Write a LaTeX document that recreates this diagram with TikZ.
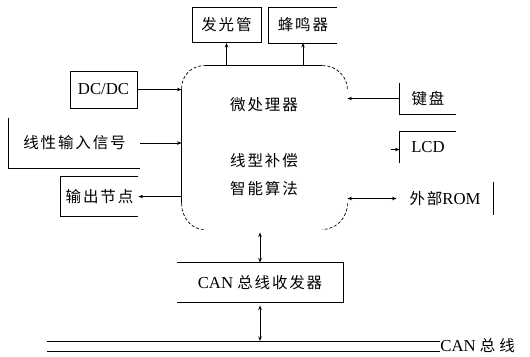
\documentclass[tikz,border=0pt]{standalone}
\usepackage{fontspec}
\setmainfont{Liberation Serif}[Scale=1.08]
\newfontfamily\cjk[LetterSpace=12]{Noto Sans CJK SC}
\usetikzlibrary{arrows.meta}
\begin{document}
\begin{tikzpicture}[x=1bp,y=-1bp, line width=0.9bp,
  font=\fontsize{15.5bp}{18bp}\selectfont,
  lbl/.style={inner sep=0pt},
  box/.style={draw, inner sep=0pt},
  arr/.style={-{Stealth[length=4.5bp,width=3.5bp]}},
  dbl/.style={{Stealth[length=4.5bp,width=3.5bp]}-{Stealth[length=4.5bp,width=3.5bp]}},
  corner/.style={densely dashed, line width=0.7bp}]
\useasboundingbox (0,0) rectangle (530,356);

% microprocessor region
\node[lbl, minimum width=165bp, minimum height=163bp] (mpu) at (264.5,147.5) {};
\node[lbl] (t1) at (264,105) {\cjk 微处理器};
\node[lbl] (t2) at (264,161) {\cjk 线型补偿};
\node[lbl] (t3) at (264,189) {\cjk 智能算法};
\draw ([yshift=-23bp]mpu.north west) -- ([yshift=26bp]mpu.south west);
\draw ([xshift=23bp]mpu.north west) -- ([xshift=-25bp]mpu.north east);
\draw[corner] ([yshift=-23bp]mpu.north west) .. controls ([yshift=-10bp]mpu.north west) and ([xshift=10bp]mpu.north west) .. ([xshift=23bp]mpu.north west);
\draw[corner] ([xshift=-25bp]mpu.north east) .. controls ([xshift=-11bp]mpu.north east) and ([yshift=-11bp]mpu.north east) .. ([yshift=-24bp]mpu.north east);
\draw[corner] ([yshift=26bp]mpu.south west) .. controls ([yshift=12bp]mpu.south west) and ([xshift=10bp]mpu.south west) .. ([xshift=22bp]mpu.south west);
\draw[corner] ([yshift=26bp]mpu.south east) .. controls ([yshift=12bp]mpu.south east) and ([xshift=-11bp]mpu.south east) .. ([xshift=-25bp]mpu.south east);

% top boxes
\node[box, minimum width=69bp, minimum height=35bp] (led) at (226.5,25) {\cjk 发光管};
\node[lbl, minimum width=68bp, minimum height=35bp] (buz) at (303,25) {\cjk 蜂鸣器};
\draw (buz.north east) -- (buz.north west) -- (buz.south west) -- (buz.south east);
\draw[arr] (mpu.north -| led.south) -- (led.south);
\draw[arr] (mpu.north -| buz.south) -- (buz.south);

% left side
\node[box, minimum width=67bp, minimum height=37bp] (dc) at (103.5,89.5) {DC/DC};
\draw[arr] (dc.east) -- (dc.east -| mpu.west);

\node[lbl, minimum width=131bp, minimum height=50bp] (in) at (74.5,143) {\cjk 线性输入信号};
\draw (in.north west) -- (in.south west) -- (in.south east);
\draw[arr] (in.east) -- (in.east -| mpu.west);

\node[lbl, minimum width=77bp, minimum height=39bp] (out) at (99.5,196.5) {\cjk 输出节点};
\draw (out.north east) -- (out.north west) -- (out.south west) -- (out.south east);
\draw[arr] (out.east -| mpu.west) -- (out.east);

% right side
\node[lbl, minimum width=56bp, minimum height=31bp] (kb) at (428,98.5) {\cjk 键盘};
\draw (kb.north west) -- (kb.south west) -- (kb.south east);
\draw[arr] (kb.west) -- (kb.west -| mpu.east);

\node[lbl, minimum width=56bp, minimum height=31bp] (lcd) at (428,147.5) {LCD};
\draw (lcd.south west) -- (lcd.north west) -- (lcd.north east);
\draw[arr] ([xshift=-9bp,yshift=-2bp]lcd.west) -- ([yshift=-2bp]lcd.west);

\node[lbl, minimum width=96bp, minimum height=33bp] (rom) at (445,198.5) {{\cjk 外部}ROM};
\draw (rom.north east) -- (rom.south east);
\draw[dbl] (rom.west -| mpu.east) -- (rom.west);

% CAN
\node[lbl, minimum width=166bp, minimum height=39bp] (can) at (260,282.5) {CAN {\cjk 总线收发器}};
\draw (can.north west) -- (can.north east) -- (can.south east) -- (can.south west);
\draw[dbl, shorten <=3bp] (can.north |- mpu.south) -- (can.north);

\node[lbl, anchor=west] (bus) at (440,346) {CAN {\cjk\addfontfeature{LetterSpace=25} 总线}};
\coordinate (b1) at (47,341);
\coordinate (b2) at (47,351);
\draw (b1) -- (b1 -| bus.west);
\draw (b2) -- (b2 -| bus.west);
\draw[dbl, shorten <=3bp] (can.south) -- (can.south |- b1);
\end{tikzpicture}
\end{document}
